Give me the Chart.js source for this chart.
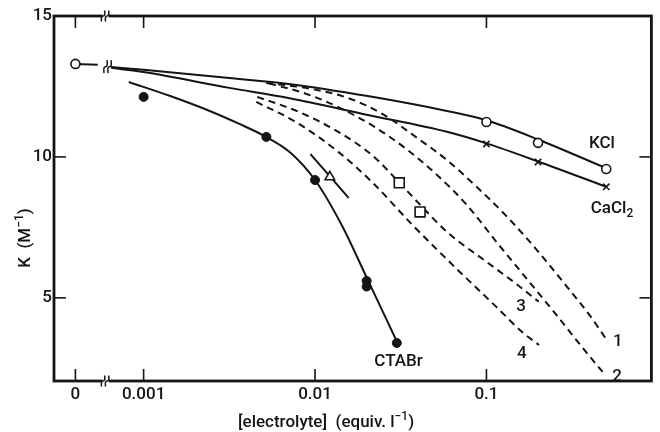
<!DOCTYPE html>
<html>
<head>
<meta charset="utf-8">
<script src="https://cdn.jsdelivr.net/npm/chart.js@4.4.1/dist/chart.umd.min.js"></script>
<style>
  html, body { margin: 0; padding: 0; background: #fff; }
  #wrap { width: 660px; height: 432px; }
</style>
</head>
<body>
<div id="wrap"><canvas id="c" width="660" height="432"></canvas></div>
<script>
// ---- axes -------------------------------------------------------------
// Concentration (equiv. l^-1) on a log axis whose origin is broken off:
// the salt-free value "0" is placed just left of the break.
const ZERO_AT = 4.0e-4;
const AXIS_BREAK_AT = 6.0e-4;
const X_MIN = 3.07e-4, X_MAX = 0.917;
const Y_MIN = 2.05, Y_MAX = 15;
const X_TICKS = [0, 0.001, 0.01, 0.1];
const X_TICK_LABELS = ['0', '0.001', '0.01', '0.1'];
const Y_TICKS = [5, 10, 15];

// ---- measured binding constants K (M^-1) ------------------------------
const K_SALT_FREE = 13.3;                 // no electrolyte added
const STUB_X = [0, 5.4e-4];               // short lead-in from the "0" point
const STUB_K = [13.3, 13.27];
const CURVE_BREAK_AT = 6.2e-4, CURVE_BREAK_K = 13.2;

const KCL_X = [0.1, 0.2, 0.5];
const KCL_K = [11.24, 10.5, 9.57];
const CACL2_X = [0.1, 0.2, 0.5];
const CACL2_K = [10.46, 9.82, 8.94];
const CTABR_X = [0.001, 0.0052, 0.01, 0.02, 0.02, 0.03];
const CTABR_K = [12.13, 10.71, 9.18, 5.6, 5.4, 3.4];
const TRIANGLE_X = [0.0122];
const TRIANGLE_K = [9.29];
const SQUARE_X = [0.031, 0.041];
const SQUARE_K = [9.08, 8.05];

// ---- drawn trend curves -----------------------------------------------
const KCL_CURVE_X = [6.45e-4, 0.001, 0.00316, 0.007, 0.0203, 0.0588, 0.1, 0.2, 0.5];
const KCL_CURVE_K = [13.19, 13.09, 12.8, 12.59, 12.16, 11.63, 11.3, 10.62, 9.6];
const CACL2_CURVE_X = [6.45e-4, 0.001, 0.00316, 0.007, 0.0203, 0.0588, 0.1, 0.2, 0.5];
const CACL2_CURVE_K = [13.16, 13.01, 12.45, 12.09, 11.49, 10.89, 10.48, 9.84, 8.94];
const CTABR_CURVE_X = [8.19e-4, 0.00143, 0.00243, 0.00362, 0.00519, 0.00722, 0.01, 0.0144, 0.0203, 0.0303];
const CTABR_CURVE_K = [12.66, 12.16, 11.63, 11.17, 10.71, 10.14, 9.18, 7.55, 5.64, 3.4];
const TRIANGLE_LINE_X = [0.0094, 0.0157];
const TRIANGLE_LINE_K = [10.1, 8.55];

// calculated curves 1-4 (dashed)
const CALC1_X = [0.00519, 0.00881, 0.0156, 0.0248, 0.0395, 0.0588, 0.0876, 0.1304, 0.1942, 0.2891, 0.4028, 0.5116];
const CALC1_K = [12.62, 12.45, 12.09, 11.52, 10.67, 9.89, 8.94, 7.91, 6.74, 5.46, 4.36, 3.44];
const CALC2_X = [0.0054, 0.00859, 0.01366, 0.02232, 0.0346, 0.0515, 0.0767, 0.1142, 0.17, 0.2532, 0.3528, 0.4915];
const CALC2_K = [12.6, 12.27, 11.77, 11.06, 10.25, 9.36, 8.3, 6.99, 5.71, 4.43, 3.33, 2.27];
const CALC3_X = [0.0046, 0.00803, 0.01366, 0.02174, 0.0311, 0.0411, 0.0588, 0.1, 0.1489, 0.202];
const CALC3_K = [12.13, 11.6, 10.89, 10.04, 9.08, 8.3, 7.34, 6.28, 5.5, 4.86];
const CALC4_X = [0.00454, 0.00772, 0.01366, 0.02174, 0.03696, 0.06991, 0.1142, 0.1634, 0.2026];
const CALC4_K = [11.95, 11.24, 10.18, 9.08, 7.59, 5.92, 4.68, 3.76, 3.33];

// ---- curve labels (anchored in data units; _{..} subscript, ^{..} superscript)
const LABEL_TEXT = ['KCl', 'CaCl_{2}', 'CTABr', '1', '2', '3', '4'];
const LABEL_X = [0.472, 0.54, 0.0307, 0.585, 0.578, 0.159, 0.161];
const LABEL_K = [10.53, 8.23, 2.8, 3.51, 2.27, 4.75, 3.09];
const X_TITLE = '[electrolyte]  (equiv. l^{\u22121})';
const Y_TITLE = 'K  (M^{\u22121})';

const INK = '#141414';
const FONT = 'Roboto, "Liberation Sans", Arial, sans-serif';
const FONT_WEIGHT = '500';
const FONT_SIZE = 17;

const pos = c => (c === 0 ? ZERO_AT : c);
const pts = (xs, ks) => xs.map((c, i) => ({ x: pos(c), y: ks[i] }));

function curve(xs, ks, dashed) {
  return {
    data: pts(xs, ks), borderColor: INK, borderWidth: 2, pointRadius: 0,
    cubicInterpolationMode: 'monotone', fill: false, order: 2,
    borderDash: dashed ? [7, 5] : []
  };
}
function markers(xs, ks, style, filled, r) {
  return {
    data: pts(xs, ks), showLine: false, pointStyle: style, pointRadius: r,
    pointBackgroundColor: filled ? INK : '#fff', pointBorderColor: INK,
    pointBorderWidth: filled ? 1 : 1.6, order: 0
  };
}

function line(ctx, x1, y1, x2, y2) {
  ctx.beginPath(); ctx.moveTo(x1, y1); ctx.lineTo(x2, y2); ctx.stroke();
}
// text with _{sub} and ^{sup} pieces, centred on (cx, cy)
function richText(ctx, str, cx, cy, size) {
  const parts = [];
  const re = /([_^])\{([^}]*)\}/g;
  let last = 0, m;
  while ((m = re.exec(str))) {
    if (m.index > last) parts.push({ t: str.slice(last, m.index), k: '' });
    parts.push({ t: m[2], k: m[1] });
    last = re.lastIndex;
  }
  if (last < str.length) parts.push({ t: str.slice(last), k: '' });
  const fontFor = k => `${FONT_WEIGHT} ${k ? Math.round(size * 0.72) : size}px ${FONT}`;
  let w = 0;
  parts.forEach(p => { ctx.font = fontFor(p.k); p.w = ctx.measureText(p.t).width; w += p.w; });
  let x = cx - w / 2;
  const base = cy + size * 0.36;
  ctx.textAlign = 'left'; ctx.textBaseline = 'alphabetic';
  parts.forEach(p => {
    ctx.font = fontFor(p.k);
    const dy = p.k === '^' ? -size * 0.4 : p.k === '_' ? size * 0.22 : 0;
    ctx.fillText(p.t, x, base + dy);
    x += p.w;
  });
}
// two small S-shaped strokes marking an interrupted axis or line
function breakMark(ctx, px, py, h) {
  ctx.save();
  ctx.fillStyle = '#fff';
  ctx.fillRect(px - 3, py - 2.5, 6, 5);
  ctx.strokeStyle = INK; ctx.lineWidth = 1.5;
  [-2.5, 1.5].forEach(dx => {
    const x0 = px + dx;
    ctx.beginPath();
    ctx.moveTo(x0 - 1.5, py + h / 2);
    ctx.quadraticCurveTo(x0 - 2.5, py, x0, py);
    ctx.quadraticCurveTo(x0 + 2.5, py, x0 + 1.5, py - h / 2);
    ctx.stroke();
  });
  ctx.restore();
}

const framePlugin = {
  id: 'frame',
  afterDatasetsDraw(chart) {
    const { ctx, chartArea: a, scales: { x, y } } = chart;
    ctx.save();
    ctx.strokeStyle = INK;
    // inward tick marks on all four sides
    ctx.lineWidth = 1.6;
    const T = 12;
    X_TICKS.forEach(c => {
      const px = x.getPixelForValue(pos(c));
      line(ctx, px, a.bottom, px, a.bottom - T);
      line(ctx, px, a.top, px, a.top + T);
    });
    Y_TICKS.forEach(k => {
      const py = y.getPixelForValue(k);
      line(ctx, a.left, py, a.left + T, py);
      line(ctx, a.right, py, a.right - T, py);
    });
    // heavy frame
    ctx.lineWidth = 2.8;
    ctx.strokeRect(a.left, a.top, a.right - a.left, a.bottom - a.top);
    // axis breaks and the break in the salt-free lead-in
    const bx = x.getPixelForValue(AXIS_BREAK_AT);
    breakMark(ctx, bx, a.bottom, 11);
    breakMark(ctx, bx, a.top, 11);
    breakMark(ctx, x.getPixelForValue(CURVE_BREAK_AT), y.getPixelForValue(CURVE_BREAK_K), 13);

    // curve labels
    ctx.fillStyle = INK;
    LABEL_TEXT.forEach((t, i) => {
      richText(ctx, t, x.getPixelForValue(LABEL_X[i]), y.getPixelForValue(LABEL_K[i]), FONT_SIZE);
    });

    // axis titles
    richText(ctx, X_TITLE, 326, 421, FONT_SIZE);
    ctx.translate(24, 238);
    ctx.rotate(-Math.PI / 2);
    richText(ctx, Y_TITLE, 0, 0, FONT_SIZE);
    ctx.restore();
  }
};

new Chart(document.getElementById('c'), {
  type: 'line',
  data: {
    datasets: [
      markers([0], [K_SALT_FREE], 'circle', false, 4.5),
      markers(KCL_X, KCL_K, 'circle', false, 4.5),
      markers(CACL2_X, CACL2_K, 'crossRot', false, 4.5),
      markers(CTABR_X, CTABR_K, 'circle', true, 4.5),
      markers(TRIANGLE_X, TRIANGLE_K, 'triangle', false, 5.5),
      markers(SQUARE_X, SQUARE_K, 'rect', false, 7),
      curve(STUB_X, STUB_K, false),
      curve(KCL_CURVE_X, KCL_CURVE_K, false),
      curve(CACL2_CURVE_X, CACL2_CURVE_K, false),
      curve(CTABR_CURVE_X, CTABR_CURVE_K, false),
      curve(TRIANGLE_LINE_X, TRIANGLE_LINE_K, false),
      curve(CALC1_X, CALC1_K, true),
      curve(CALC2_X, CALC2_K, true),
      curve(CALC3_X, CALC3_K, true),
      curve(CALC4_X, CALC4_K, true)
    ]
  },
  options: {
    responsive: false,
    animation: false,
    layout: { padding: { top: 16, right: 3, left: 0, bottom: 0 } },
    plugins: { legend: { display: false }, tooltip: { enabled: false } },
    scales: {
      x: {
        type: 'logarithmic', min: X_MIN, max: X_MAX,
        afterBuildTicks: s => { s.ticks = X_TICKS.map(c => ({ value: pos(c) })); },
        afterFit: s => { s.height = 51; },
        grid: { display: false, drawTicks: false },
        border: { display: false },
        ticks: {
          autoSkip: false, maxRotation: 0, padding: 4, color: INK,
          font: { family: FONT, size: FONT_SIZE, weight: FONT_WEIGHT },
          callback: (v, i) => X_TICK_LABELS[i]
        }
      },
      y: {
        type: 'linear', min: Y_MIN, max: Y_MAX,
        afterBuildTicks: s => { s.ticks = Y_TICKS.map(k => ({ value: k })); },
        afterFit: s => { s.width = 54; },
        grid: { display: false, drawTicks: false },
        border: { display: false },
        ticks: {
          padding: 2, color: INK,
          font: { family: FONT, size: FONT_SIZE, weight: FONT_WEIGHT },
          callback: v => String(v)
        }
      }
    }
  },
  plugins: [framePlugin]
});
</script>
</body>
</html>
